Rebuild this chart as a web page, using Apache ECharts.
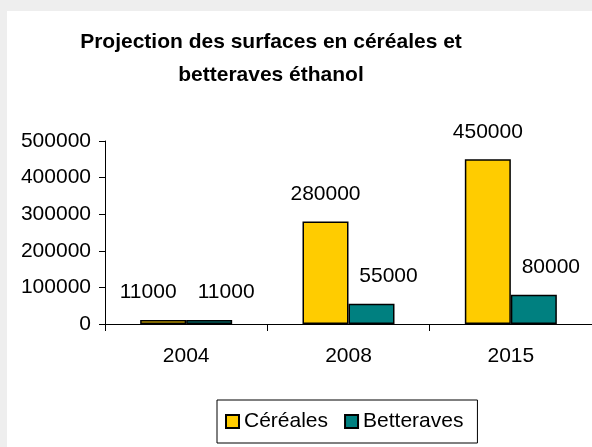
<!DOCTYPE html>
<html>
<head>
<meta charset="utf-8">
<script src="https://cdn.jsdelivr.net/npm/echarts@6/dist/echarts.min.js"></script>
<style>
  html, body { margin: 0; padding: 0; background: #eeeeee; }
  #main { width: 592px; height: 447px; }
</style>
</head>
<body>
<div id="main"></div>
<script>
var years = ['2004', '2008', '2015'];
var cereales = [11000, 280000, 450000];
var betteraves = [11000, 55000, 80000];
var yTicks = [0, 100000, 200000, 300000, 400000, 500000];

var font = 'Liberation Sans, Arial, sans-serif';

var myChart = echarts.init(document.getElementById('main'));

var cerealesData = cereales.map(function (v, i) {
  // le premier libellé est décalé vers la gauche dans l'original
  if (i === 0) {
    return {value: v, label: {offset: [-15, 0]}};
  }
  return v;
});

var option = {
  backgroundColor: '#eeeeee',
  animation: false,
  graphic: [{
    type: 'rect',
    shape: {x: 7, y: 11, width: 600, height: 450},
    style: {fill: '#ffffff'},
    z: -10
  }],
  title: {
    text: 'Projection des surfaces en céréales et\nbetteraves éthanol',
    left: 266,
    top: 21,
    textAlign: 'center',
    textStyle: {
      fontFamily: font,
      fontWeight: 'bold',
      fontSize: 21,
      lineHeight: 33,
      color: '#000'
    }
  },
  legend: {
    data: ['Céréales', 'Betteraves'],
    left: 217,
    top: 400,
    padding: [11, 14, 11, 8],
    itemGap: 16,
    itemWidth: 13,
    itemHeight: 13,
    icon: 'rect',
    borderColor: '#000',
    borderWidth: 1,
    backgroundColor: '#fff',
    textStyle: {
      fontFamily: font,
      fontSize: 21,
      color: '#000',
      padding: [0, 0, 0, 0]
    }
  },
  grid: {
    left: 105,
    top: 141,
    right: -6,
    bottom: 123,
    containLabel: false
  },
  xAxis: {
    type: 'category',
    data: years,
    axisLine: {lineStyle: {color: '#000', width: 1}},
    axisTick: {show: true, length: 7, lineStyle: {color: '#000'}},
    axisLabel: {
      margin: 22,
      color: '#000',
      fontFamily: font,
      fontSize: 21
    },
    splitLine: {show: false}
  },
  yAxis: {
    type: 'value',
    min: yTicks[0],
    max: yTicks[yTicks.length - 1],
    interval: yTicks[1] - yTicks[0],
    axisLine: {show: true, lineStyle: {color: '#000', width: 1}},
    axisTick: {show: true, length: 6, lineStyle: {color: '#000'}},
    axisLabel: {
      margin: 14,
      color: '#000',
      fontFamily: font,
      fontSize: 21,
      formatter: function (v) { return String(v); }
    },
    splitLine: {show: false}
  },
  series: [
    {
      name: 'Céréales',
      type: 'bar',
      barWidth: 46,
      barGap: '0%',
      data: cerealesData,
      itemStyle: {color: '#ffcc00', borderColor: '#000', borderWidth: 1.5},
      label: {
        show: true,
        position: 'top',
        distance: 17,
        color: '#000',
        fontFamily: font,
        fontSize: 21
      }
    },
    {
      name: 'Betteraves',
      type: 'bar',
      barWidth: 46,
      barGap: '0%',
      data: betteraves,
      itemStyle: {color: '#008080', borderColor: '#000', borderWidth: 1.5},
      label: {
        show: true,
        position: 'top',
        distance: 17,
        offset: [17, 0],
        color: '#000',
        fontFamily: font,
        fontSize: 21
      }
    }
  ]
};

myChart.setOption(option);
</script>
</body>
</html>
